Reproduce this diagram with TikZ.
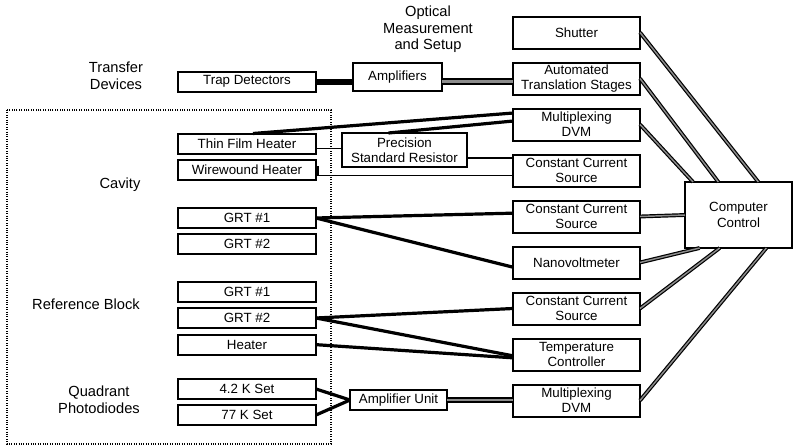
\documentclass[tikz,border=0pt]{standalone}
\usepackage{fontspec}
\setmainfont{Liberation Sans}
\usetikzlibrary{positioning}

\tikzset{
  box/.style={draw, line width=1.5pt, outer sep=0pt, inner sep=1pt,
    minimum width=103.5pt, minimum height=15pt,
    font=\fontsize{10}{11.5}\selectfont},
  unit/.style={box, align=center, minimum width=95.25pt, minimum height=24pt},
  group/.style={align=center, font=\fontsize{11}{12.5}\selectfont},
  wire/.style={line width=0.8pt},
  lead/.style={line width=2.4pt},
  bus/.style={line width=1.6pt, double=black!45, double distance=1.6pt},
  ctrl/.style={line width=0.9pt, double=black!45, double distance=1.1pt},
}

\begin{document}
\begin{tikzpicture}[x=0.75pt, y=-0.75pt, node distance=10.5pt]
  \path[use as bounding box, fill=white] (0,0) rectangle (794,446);

  % Labels
  \node[group] (lt) at (116,76) {Transfer\\Devices};
  \node[group] (lo) at (428,29.5) {Optical\\Measurement\\and Setup};
  \node[group] (lc) at (120,185) {Cavity};
  \node[group] (lr) at (86,304) {Reference Block};
  \node[group] (lq) at (99,400) {Quadrant\\Photodiodes};

  \draw[densely dotted, line width=0.8pt] (7,110) rectangle (331,444);

  % Nodes
  \node[box] (td) at (247,81.5) {Trap Detectors};
  \node[box] (tfh) at (247,143.5) {Thin Film Heater};
  \node[box, below=4.5pt of tfh] (wwh) {Wirewound Heater};
  \node[box] (cg1) at (247,218) {GRT \#1};
  \node[box, below=4.5pt of cg1] (cg2) {GRT \#2};
  \node[box] (rg1) at (247,292) {GRT \#1};
  \node[box, below=4.5pt of rg1] (rg2) {GRT \#2};
  \node[box, below=5pt of rg2] (rh) {Heater};
  \node[box] (q4) at (247,389) {4.2 K Set};
  \node[box, below=4.5pt of q4] (q77) {77 K Set};

  \node[box, minimum width=66.75pt, minimum height=21pt] (amp) at (397.5,77) {Amplifiers};
  \node[unit, minimum width=93.75pt, minimum height=25.5pt] (psr) at (404.5,150) {Precision\\Standard Resistor};
  \node[box, minimum width=72.75pt] (au) at (398.5,400) {Amplifier Unit};

  \node[unit] (sh) at (576.5,32.5) {Shutter};
  \node[unit, below=of sh] (ats) {Automated\\Translation Stages};
  \node[unit, below=of ats] (dvm1) {Multiplexing\\DVM};
  \node[unit, below=of dvm1] (ccs1) {Constant Current\\Source};
  \node[unit, below=of ccs1] (ccs2) {Constant Current\\Source};
  \node[unit, below=of ccs2] (nv) {Nanovoltmeter};
  \node[unit, below=of nv] (ccs3) {Constant Current\\Source};
  \node[unit, below=of ccs3] (tc) {Temperature\\Controller};
  \node[unit, below=of tc] (dvm2) {Multiplexing\\DVM};

  \node[unit, minimum width=80.25pt, minimum height=49.5pt] (cc) at (738.5,215) {Computer\\Control};

  % Connections
  \draw[line width=4.5pt] (td.east) -- (td.east -| amp.west);
  \draw[bus] (amp.east |- td.east) -- (td.east -| ats.west);

  \draw[lead] ([xshift=4.5pt]tfh.north) -- ([yshift=8.6pt]dvm1.west);
  \draw[lead] ([xshift=-12pt]psr.north) -- ([yshift=2.6pt]dvm1.west);
  \coordinate (tfhout) at ([yshift=-4pt]tfh.east);
  \draw[wire] (tfhout) -- (tfhout -| psr.west);
  \coordinate (psrout) at ([yshift=-6pt]psr.east);
  \draw[wire] (psrout) -- (psrout -| ccs1.west);
  \draw[wire] ([yshift=2.5pt]wwh.east) -- ++(2,0) |- ([yshift=-4pt]ccs1.west);

  \draw[lead] (cg1.east) -- ([yshift=2.5pt]ccs2.west);
  \draw[lead] (cg1.east) -- ([yshift=-3.5pt]nv.west);
  \draw[lead] (rg2.east) -- (ccs3.west);
  \draw[lead] (rg2.east) -- ([yshift=-1pt]tc.west);
  \draw[lead] (rh.east) -- ([yshift=-2.5pt]tc.west);
  \draw[lead] (q4.east) -- (au.west);
  \draw[lead] (q77.east) -- (au.west);
  \draw[bus] (au.east) -- (au.east -| dvm2.west);

  \draw[ctrl] (sh.east) -- ([xshift=55pt]cc.north west);
  \draw[ctrl] (ats.east) -- ([xshift=25pt]cc.north west);
  \draw[ctrl] (dvm1.east) -- ([xshift=6pt]cc.north west);
  \draw[ctrl] (ccs2.east) -- (cc.west);
  \draw[ctrl] (nv.east) -- ([xshift=11pt]cc.south west);
  \draw[ctrl] (ccs3.east) -- ([xshift=26pt]cc.south west);
  \draw[ctrl] (dvm2.east) -- ([xshift=61pt]cc.south west);
\end{tikzpicture}
\end{document}
